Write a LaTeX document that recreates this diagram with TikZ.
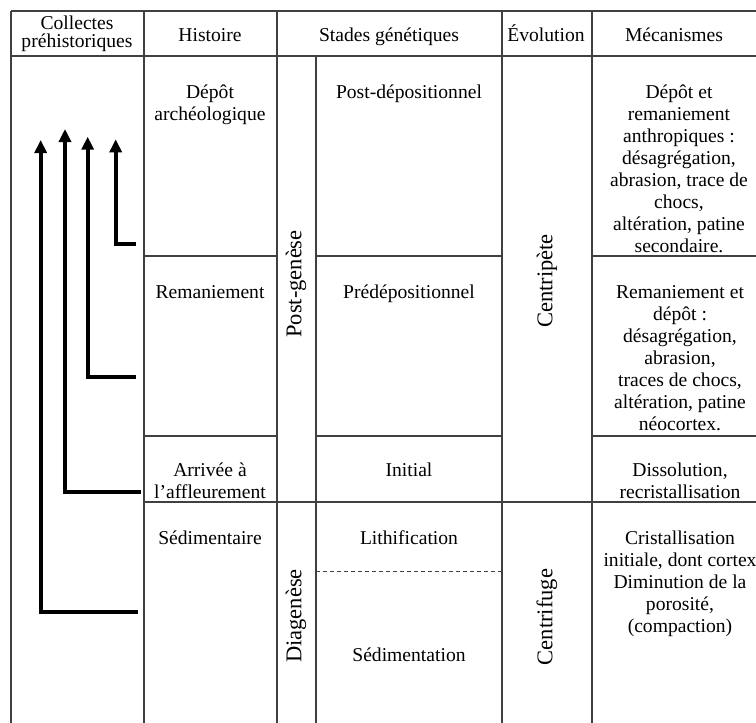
\documentclass[tikz,border=0pt]{standalone}
\usepackage{fontspec}
\setmainfont{Liberation Serif}
\usetikzlibrary{arrows.meta}
\newcommand\mlines[1]{\begin{tabular}[t]{@{}c@{}}#1\end{tabular}}
\begin{document}
\begin{tikzpicture}[x=1pt,y=-1pt,
  gridline/.style={draw=black!75, line width=1.1pt},
  dashline/.style={draw=black!75, line width=1pt, dash pattern=on 4pt off 3pt},
  txt/.style={anchor=base, inner sep=0pt, font=\fontsize{19.6}{22}\selectfont, text=black},
  rtxt/.style={anchor=center, rotate=90, inner sep=0pt, font=\fontsize{22.5}{24}\selectfont, text=black},
  collect/.style={draw=black, line width=3.6pt, line join=miter, -{Triangle[length=13pt,width=12pt]}}
]
\useasboundingbox (0,0) rectangle (756,723);
% table frame
\draw[gridline] (11,11) -- (756,11);
\draw[gridline] (11,56) -- (756,56);
\draw[gridline] (11,11) -- (11,723);
\draw[gridline] (144,11) -- (144,723);
\draw[gridline] (277,11) -- (277,723);
\draw[gridline] (316,56) -- (316,723);
\draw[gridline] (502,11) -- (502,723);
\draw[gridline] (592,11) -- (592,723);
% row separators
\draw[gridline] (144,256) -- (277,256);
\draw[gridline] (316,256) -- (502,256);
\draw[gridline] (592,256) -- (756,256);
\draw[gridline] (144,436) -- (277,436);
\draw[gridline] (316,436) -- (502,436);
\draw[gridline] (592,436) -- (756,436);
\draw[gridline] (144,502) -- (756,502);
\draw[dashline] (316,571) -- (502,571);
% header
\node[txt] (colA1) at (77,29) {Collectes};
\node[txt] (colA2) at (77,47) {préhistoriques};
\node[txt] (hist) at (210,41) {Histoire};
\node[txt] (stades) at (389,41) {Stades génétiques};
\node[txt] (evol) at (546,41) {Évolution};
\node[txt] (meca) at (674,41) {Mécanismes};
% row 1
\node[txt] (depot) at (210,98) {\mlines{Dépôt\\archéologique}};
\node[txt] (postdep) at (409,98) {Post-dépositionnel};
\node[txt] (mec1) at (679,98) {\mlines{Dépôt et\\remaniement\\anthropiques :\\désagrégation,\\abrasion, trace de\\chocs,\\altération, patine\\secondaire.}};
% row 2
\node[txt] (rem) at (210,298) {Remaniement};
\node[txt] (predep) at (409,298) {Prédépositionnel};
\node[txt] (mec2) at (680,298) {\mlines{Remaniement et\\dépôt :\\désagrégation,\\abrasion,\\traces de chocs,\\altération, patine\\néocortex.}};
% row 3
\node[txt] (arr) at (210,476) {\mlines{Arrivée à\\l’affleurement}};
\node[txt] (init) at (409,476) {Initial};
\node[txt] (mec3) at (680,476) {\mlines{Dissolution,\\recristallisation}};
% row 4
\node[txt] (sed) at (210,544) {Sédimentaire};
\node[txt] (lith) at (409,544) {Lithification};
\node[txt] (sedim) at (409,661) {Sédimentation};
\node[txt] (mec4) at (680,544) {\mlines{Cristallisation\\initiale, dont cortex\\Diminution de la\\porosité,\\(compaction)}};
% rotated labels
\node[rtxt] (postg) at (296,284) {Post-genèse};
\node[rtxt] (diag) at (296,616) {Diagenèse};
\node[rtxt] (cpete) at (547,281) {Centripète};
\node[rtxt] (cfuge) at (547,617) {Centrifuge};
% collection arrows
\coordinate (f1) at (138,612); \coordinate (t1) at (40.7,140);
\coordinate (f2) at (140.7,492); \coordinate (t2) at (65,129);
\coordinate (f3) at (136,377); \coordinate (t3) at (87.7,136.7);
\coordinate (f4) at (136,244); \coordinate (t4) at (115.7,139.3);
\draw[collect] (f1) -| (t1);
\draw[collect] (f2) -| (t2);
\draw[collect] (f3) -| (t3);
\draw[collect] (f4) -| (t4);
\end{tikzpicture}
\end{document}
